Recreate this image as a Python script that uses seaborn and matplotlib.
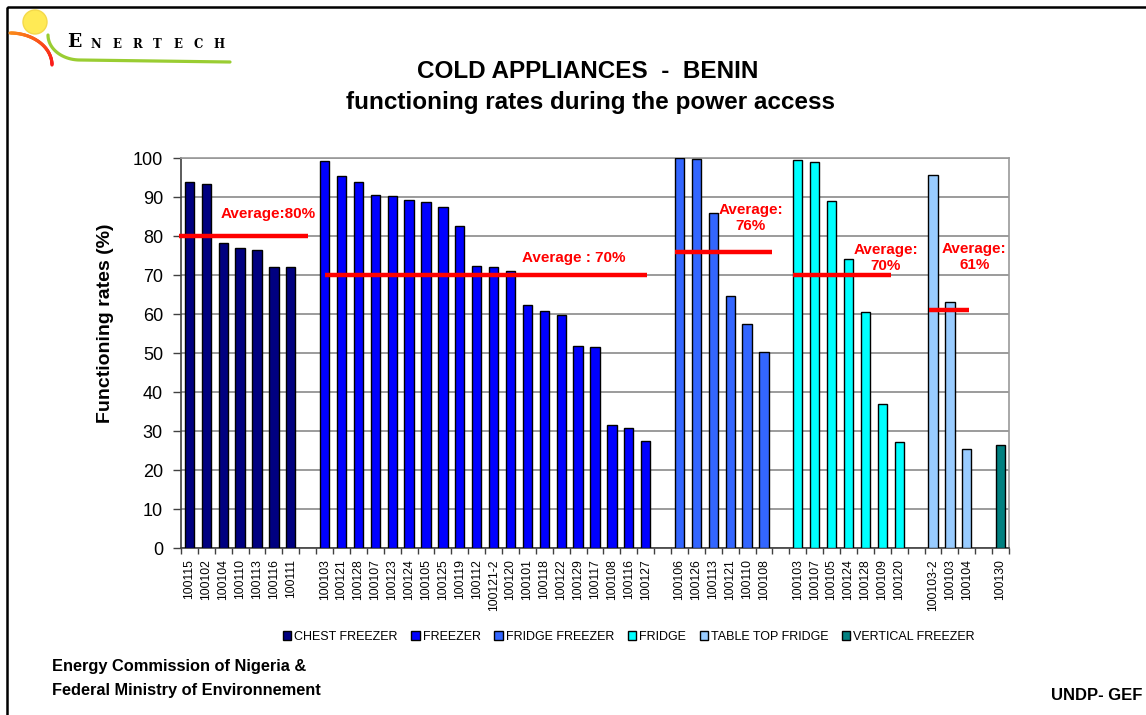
import numpy as np
import pandas as pd
import matplotlib
matplotlib.use("Agg")
import matplotlib.pyplot as plt
from matplotlib.patches import Circle, Rectangle
import seaborn as sns

# ---- data -------------------------------------------------------------
types = ["CHEST FREEZER", "FREEZER", "FRIDGE FREEZER", "FRIDGE",
         "TABLE TOP FRIDGE", "VERTICAL FREEZER"]

chest_ids = ["100115", "100102", "100104", "100110", "100113", "100116", "100111"]
chest_rates = [93.8, 93.4, 78.3, 77.0, 76.5, 72.2, 72.1]

freezer_ids = ["100103", "100121", "100128", "100107", "100123", "100124", "100105",
               "100125", "100119", "100112", "100121-2", "100120", "100101", "100118",
               "100122", "100129", "100117", "100108", "100116", "100127"]
freezer_rates = [99.3, 95.5, 93.8, 90.7, 90.3, 89.2, 88.9, 87.4, 82.6, 72.3,
                 72.0, 71.1, 62.3, 60.8, 59.9, 52.0, 51.7, 31.7, 30.9, 27.4]

fridge_freezer_ids = ["100106", "100126", "100113", "100121", "100110", "100108"]
fridge_freezer_rates = [100.2, 99.9, 85.9, 64.8, 57.6, 50.3]

fridge_ids = ["100103", "100107", "100105", "100124", "100128", "100109", "100120"]
fridge_rates = [99.5, 99.0, 89.1, 74.3, 60.6, 36.9, 27.3]

table_top_ids = ["100103-2", "100103", "100104"]
table_top_rates = [95.8, 63.2, 25.4]

vertical_ids = ["100130"]
vertical_rates = [26.5]

# group averages shown as red lines (chest, freezer, fridge freezer, fridge, table top)
averages = [80, 70, 76, 70, 61]
average_labels = ["Average:80%", "Average : 70%", "Average:\n76%", "Average:\n70%", "Average:\n61%"]

colors = ["#000080", "#0000FF", "#3366FF", "#00FFFF", "#99CCFF", "#008080"]

# ---- table: one slot per appliance, an empty slot between groups --------
groups = [(chest_ids, chest_rates), (freezer_ids, freezer_rates),
          (fridge_freezer_ids, fridge_freezer_rates), (fridge_ids, fridge_rates),
          (table_top_ids, table_top_rates), (vertical_ids, vertical_rates)]
rows = []
group_span = []
slot = 0
for kind, (ids, rates) in zip(types, groups):
    first = slot
    for code, rate in zip(ids, rates):
        rows.append({"pos": slot, "code": code, "rate": rate, "type": kind})
        slot += 1
    group_span.append((first, slot - 1))
    slot += 1
df = pd.DataFrame(rows)
n_slots = slot - 1

# ---- figure -----------------------------------------------------------
sns.set_theme(style="white")
plt.rcParams["font.family"] = ["Liberation Sans", "DejaVu Sans"]
plt.rcParams["text.color"] = "black"
plt.rcParams["axes.labelcolor"] = "black"
plt.rcParams["xtick.color"] = "black"
plt.rcParams["ytick.color"] = "black"

W, H = 1146, 715
fig = plt.figure(figsize=(W / 100, H / 100), dpi=100)
fig.patch.set_facecolor("white")

ax = fig.add_axes([181 / W, 1 - 548.3 / H, 828 / W, 390 / H])
sns.barplot(data=df, x="pos", y="rate", hue="type", hue_order=types,
            palette=colors, saturation=1, native_scale=True, dodge=False,
            width=0.55, errorbar=None, edgecolor="black", linewidth=1.0,
            ax=ax, zorder=3)

ax.set_xlim(-0.5, n_slots - 0.5)
ax.set_ylim(0, 100)
ax.set_yticks(np.arange(0, 101, 10))
ax.yaxis.grid(True, color="#808080", linewidth=1.1, zorder=0)
ax.xaxis.grid(False)
ax.set_axisbelow(True)
ax.tick_params(axis="y", labelsize=13, length=6, width=1, color="#404040",
               left=True, pad=7)
ax.set_xticks(df["pos"])
ax.set_xticklabels(df["code"], rotation=90, fontsize=8.7)
ax.set_xticks(np.arange(-0.5, n_slots, 1), minor=True)
ax.tick_params(axis="x", which="major", length=0, pad=8)
ax.tick_params(axis="x", which="minor", length=4, width=1, color="#404040", bottom=True)
ax.set_xlabel("")
ax.set_ylabel("")
for side in ["left", "bottom"]:
    ax.spines[side].set_color("#404040")
    ax.spines[side].set_linewidth(1.2)
for side in ["right", "top"]:
    ax.spines[side].set_color("#9a9a9a")
    ax.spines[side].set_linewidth(1.2)

# average lines and their labels
line_ends = [(-0.62, 7.0), (8.04, 27.07), (28.73, 34.45), (35.73, 41.5), (43.74, 46.13)]
label_xy = [(1.85, 85.7), (22.75, 74.4), (33.2, 84.7), (41.2, 74.4), (46.45, 74.7)]
label_ha = ["left", "center", "center", "center", "center"]
for avg, (x0, x1), txt, (tx, ty), ha in zip(averages, line_ends, average_labels,
                                              label_xy, label_ha):
    ax.plot([x0, x1], [avg, avg], color="#FF0000", linewidth=3.2,
            solid_capstyle="butt", zorder=4, clip_on=False)
    ax.text(tx, ty, txt, color="#FF0000", fontsize=11, fontweight="bold",
            ha=ha, va="center", linespacing=1.2, zorder=5)

sns.move_legend(ax, "center", bbox_to_anchor=((629 - 181) / 828, (548.3 - 637) / 390),
                ncol=6, frameon=False, title=None, fontsize=9,
                handlelength=0.65, handleheight=0.65, handletextpad=0.25,
                columnspacing=1.1)

# titles and captions
fig.text(588 / W, 1 - 71 / H, "COLD APPLIANCES  -  BENIN", ha="center", va="center",
         fontsize=17.5, fontweight="bold")
fig.text(591 / W, 1 - 102 / H, "functioning rates during the power access",
         ha="center", va="center", fontsize=17.5, fontweight="bold")
fig.text(106 / W, 1 - 323 / H, "Functioning rates (%)", rotation=90, ha="center",
         va="center", fontsize=14, fontweight="bold")
fig.text(52 / W, 1 - 667 / H, "Energy Commission of Nigeria &", ha="left",
         va="center", fontsize=11.8, fontweight="bold")
fig.text(52 / W, 1 - 691 / H, "Federal Ministry of Environnement", ha="left",
         va="center", fontsize=11.8, fontweight="bold")
fig.text(1142 / W, 1 - 696 / H, "UNDP- GEF", ha="right", va="center",
         fontsize=12, fontweight="bold")

# page frame
frame = fig.add_axes([0, 0, 1, 1], zorder=-1)
frame.set_xlim(0, W)
frame.set_ylim(H, 0)
frame.axis("off")
frame.add_patch(Rectangle((7, 7), W + 20, H + 20, fill=False, edgecolor="black",
                          linewidth=1.8))

# company logo
logo = fig.add_axes([0, 1 - 80 / H, 250 / W, 80 / H])
logo.set_xlim(0, 250)
logo.set_ylim(80, 0)
logo.axis("off")
logo.add_patch(Circle((35, 22), 12, facecolor="#FFEA55", edgecolor="#F4D94A",
                      linewidth=1))
th = np.linspace(0, np.pi / 2, 60)
ox = 10 + 42 * np.sin(th)
oy = 33 + 32 * (1 - np.cos(th))
for i in range(len(th) - 1):
    f = i / (len(th) - 1)
    logo.plot(ox[i:i + 2], oy[i:i + 2], color=(0.98, 0.55 - 0.45 * f, 0.1),
              linewidth=2.3, solid_capstyle="round")
gx = np.concatenate([48 + 32 * (1 - np.cos(th)), [230]])
gy = np.concatenate([35 + 25 * np.sin(th), [62]])
logo.plot(gx, gy, color="#9ACD32", linewidth=2.3, solid_capstyle="round")
logo.text(67, 42, "E", fontsize=13.5, fontweight="bold", family="DejaVu Serif",
          va="center", ha="left")
for i, ch in enumerate("NERTECH"):
    logo.text(96 + 20.5 * i, 44, ch, fontsize=8.5, fontweight="bold",
              family="DejaVu Serif", va="center", ha="center")

fig.savefig("out.png", dpi=100)
